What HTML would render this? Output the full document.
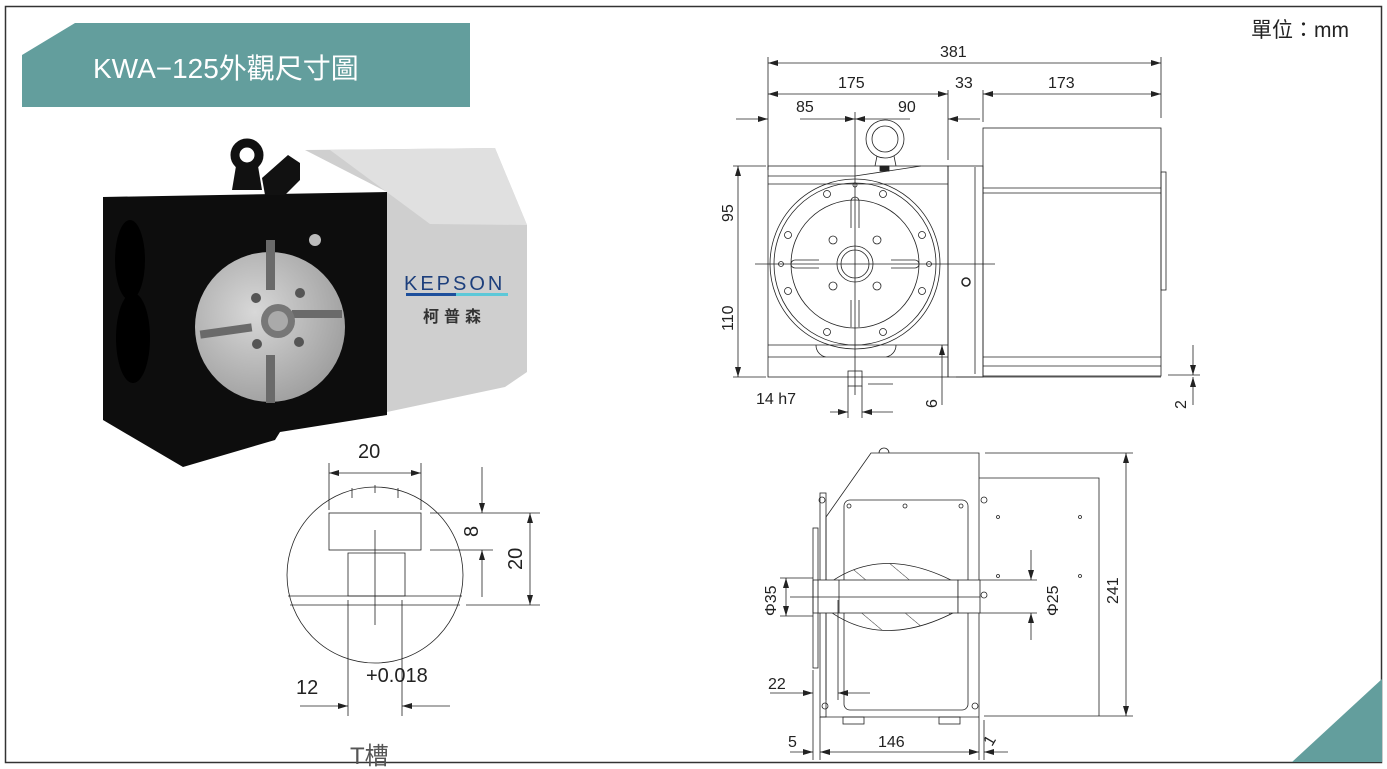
<!DOCTYPE html>
<html><head><meta charset="utf-8"><style>
html,body{margin:0;padding:0;background:#fff;}
svg{display:block;}
text{font-family:"Liberation Sans","Noto Sans CJK TC",sans-serif;fill:#222;}
</style></head><body>
<svg width="1387" height="769" viewBox="0 0 1387 769" xmlns="http://www.w3.org/2000/svg">
<defs>
<marker id="a" viewBox="0 0 10 6" refX="10" refY="3" markerWidth="10" markerHeight="6" orient="auto-start-reverse" markerUnits="userSpaceOnUse"><path d="M0,0 L10,3 L0,6z" fill="#222"/></marker>
<pattern id="h" width="28" height="28" patternUnits="userSpaceOnUse" patternTransform="rotate(-50)"><line x1="0" y1="0" x2="0" y2="28" stroke="#333" stroke-width="1"/></pattern>
<radialGradient id="sil" cx="0.4" cy="0.4" r="0.7"><stop offset="0" stop-color="#d8d8d8"/><stop offset="1" stop-color="#9a9a9a"/></radialGradient>
</defs>
<rect x="5.5" y="6.5" width="1376" height="756" fill="#fff" stroke="#333" stroke-width="1.5"/>
<!-- banner -->
<polygon points="22,55 75,23 470,23 470,107 22,107" fill="#639e9d"/>
<text x="93" y="78" font-size="28" style="fill:#fff">KWA−125外觀尺寸圖</text>
<text x="1251" y="37" font-size="21">單位：mm</text>
<polygon points="1292,762 1382,679 1382,762" fill="#639e9d"/>

<!-- photo -->
<polygon points="305,150 495,148 527,225 527,372 505,387 387,412 387,192" fill="#cfcfcf"/>
<polygon points="330,150 495,148 527,225 430,224" fill="#e0e0e0"/>
<polygon points="103,197 387,192 387,415 280,432 275,440 183,467 103,420" fill="#0d0d0d"/>
<ellipse cx="130" cy="260" rx="15" ry="40" fill="#000"/>
<ellipse cx="133" cy="338" rx="17" ry="45" fill="#000"/>
<circle cx="247" cy="155" r="12" fill="none" stroke="#111" stroke-width="9"/>
<path d="M236,166 L232,190 L262,190 L258,166z" fill="#111"/>
<path d="M262,178 L288,155 L300,163 L300,180 L285,195 L265,195z" fill="#111"/>
<circle cx="270" cy="327" r="75" fill="url(#sil)"/>
<rect x="266" y="240" width="9" height="50" fill="#6a6a6a"/>
<rect x="266" y="355" width="9" height="48" fill="#6a6a6a"/>
<rect x="200" y="327" width="52" height="8" fill="#6a6a6a" transform="rotate(-8 226 331)"/>
<rect x="292" y="310" width="50" height="8" fill="#6a6a6a"/>
<circle cx="278" cy="321" r="17" fill="#777"/><circle cx="278" cy="321" r="10" fill="#aaa"/>
<circle cx="256" cy="298" r="5" fill="#555"/><circle cx="300" cy="293" r="5" fill="#555"/>
<circle cx="257" cy="344" r="5" fill="#555"/><circle cx="299" cy="342" r="5" fill="#555"/>
<circle cx="315" cy="240" r="6" fill="#bbb"/>
<text x="404" y="290" font-size="20" letter-spacing="3" style="fill:#1d3f7c">KEPSON</text>
<rect x="406" y="293" width="50" height="3" fill="#1d4f9c"/><rect x="456" y="293" width="52" height="3" fill="#5cc8d8"/>
<text x="423" y="322" font-size="16" font-weight="bold" letter-spacing="5" style="fill:#333">柯普森</text>

<g stroke="#222" stroke-width="0.8" fill="none">
<!-- T-slot detail -->
<circle cx="375" cy="575" r="88"/>
<rect x="329" y="513" width="92" height="37" fill="#fff"/>
<path d="M348,553 L405,553 L405,596 L348,596z"/>
<path d="M288,596 L462,596 M290,605 L460,605"/>
<path d="M375,530 L375,625"/>
<path d="M352,488 v10 M375,485 v8 M398,488 v10"/>
<path d="M329,463 V510 M421,463 V510"/>
<line x1="329" y1="473" x2="421" y2="473" marker-start="url(#a)" marker-end="url(#a)"/>
<path d="M430,513 H540 M430,550 H493 M466,605 H540"/>
<line x1="482" y1="467" x2="482" y2="513" marker-end="url(#a)"/>
<line x1="482" y1="597" x2="482" y2="550" marker-end="url(#a)"/>
<line x1="530" y1="513" x2="530" y2="605" marker-start="url(#a)" marker-end="url(#a)"/>
<path d="M348,600 V716 M402,600 V716"/>
<line x1="300" y1="706" x2="348" y2="706" marker-end="url(#a)"/>
<line x1="450" y1="706" x2="402" y2="706" marker-end="url(#a)"/>

<!-- front view -->
<path d="M768,57 V170 M1161,57 V118 M948,90 V160 M983,90 V122 M855,112 V395"/>
<line x1="768" y1="63" x2="1161" y2="63" marker-start="url(#a)" marker-end="url(#a)"/>
<line x1="768" y1="94" x2="948" y2="94" marker-start="url(#a)" marker-end="url(#a)"/>
<line x1="983" y1="94" x2="1161" y2="94" marker-start="url(#a)" marker-end="url(#a)"/>
<line x1="736" y1="119" x2="768" y2="119" marker-end="url(#a)"/>
<line x1="800" y1="119" x2="855" y2="119" marker-end="url(#a)"/>
<line x1="980" y1="119" x2="948" y2="119" marker-end="url(#a)"/>
<line x1="910" y1="119" x2="855" y2="119" marker-end="url(#a)"/>
<rect x="768" y="166" width="180" height="211"/>
<path d="M768,176 H855 L921,166 M768,184 H948"/>
<circle cx="885" cy="139" r="19"/><circle cx="885" cy="139" r="13"/>
<path d="M877,156 L875,166 M894,156 L896,166"/><rect x="880" y="166" width="9" height="5" fill="#222"/>
<circle cx="855" cy="264" r="85"/><circle cx="855" cy="264" r="81"/><circle cx="855" cy="264" r="64"/>
<path d="M851,228 V201 a4,4 0 0,1 8,0 V228 M851,300 V327 M859,300 V327 M819,260 H795 a4,4 0 0,0 0,8 H819 M891,260 H915 a4,4 0 0,1 0,8 H891"/>
<circle cx="855" cy="264" r="18"/><circle cx="855" cy="264" r="14"/>
<circle cx="833" cy="240" r="4"/><circle cx="877" cy="240" r="4"/><circle cx="833" cy="286" r="4"/><circle cx="877" cy="286" r="4"/>
<circle cx="788" cy="235" r="3.5"/><circle cx="922" cy="235" r="3.5"/><circle cx="788" cy="291" r="3.5"/><circle cx="922" cy="291" r="3.5"/>
<circle cx="827" cy="194" r="3.5"/><circle cx="883" cy="194" r="3.5"/><circle cx="827" cy="332" r="3.5"/><circle cx="883" cy="332" r="3.5"/>
<circle cx="781" cy="264" r="2.5"/><circle cx="929" cy="264" r="2.5"/><circle cx="855" cy="185" r="2"/>
<path d="M755,264 H995"/>
<path d="M768,345 H948 M768,357 H948 M816,345 a12,12 0 0,0 10,12 M896,345 a12,12 0 0,1 -10,12"/>
<rect x="848" y="371" width="14" height="15"/>
<rect x="948" y="166" width="35" height="211"/><path d="M975,167 V374"/>
<rect x="983" y="128" width="178" height="248"/>
<path d="M983,188 H1161 M983,193 H1161 M983,357 H1161 M983,366 H1161"/>
<rect x="1161" y="172" width="5" height="118"/>
<circle cx="966" cy="282" r="4" stroke-width="1.5"/>
<path d="M733,166 H766 M733,377 H766 M956,377 H1161 M1168,375 H1200 M868,384 H893"/>
<line x1="738" y1="264" x2="738" y2="166" marker-end="url(#a)"/>
<line x1="738" y1="264" x2="738" y2="377" marker-end="url(#a)"/>
<path d="M848,386 V418 M862,386 V418"/>
<line x1="830" y1="412" x2="848" y2="412" marker-end="url(#a)"/>
<line x1="893" y1="412" x2="862" y2="412" marker-end="url(#a)"/>
<line x1="942" y1="345" x2="942" y2="405" marker-start="url(#a)"/>
<line x1="1193" y1="345" x2="1193" y2="375" marker-end="url(#a)"/>
<line x1="1193" y1="405" x2="1193" y2="377" marker-end="url(#a)"/>

<!-- side view -->
<path d="M826,700 V517 L871,453 H979 V717"/>
<path d="M889,453 a5,5 0 0,0 -10,0"/>
<rect x="820" y="493" width="6" height="224"/>
<path d="M820,717 H979"/>
<rect x="843" y="717" width="21" height="7"/><rect x="939" y="717" width="21" height="7"/>
<rect x="844" y="500" width="124" height="210" rx="6"/>
<path d="M985,453 H1133 M979,478 H1099 V716 M984,716 H1133"/>
<line x1="1126" y1="585" x2="1126" y2="453" marker-end="url(#a)"/>
<line x1="1126" y1="585" x2="1126" y2="716" marker-end="url(#a)"/>
<path d="M813,597 Q880,530 980,597 Q880,664 813,597z" fill="url(#h)"/>
<rect x="813" y="580" width="145" height="33" fill="#fff"/>
<rect x="958" y="580" width="22" height="33" fill="#fff"/>
<path d="M839,580 V613"/>
<rect x="813" y="528" width="5" height="140"/>
<circle cx="822" cy="500" r="3"/><circle cx="825" cy="706" r="3"/><circle cx="975" cy="706" r="3"/><circle cx="984" cy="500" r="3"/>
<circle cx="849" cy="506" r="2"/><circle cx="905" cy="506" r="2"/><circle cx="961" cy="506" r="2"/>
<circle cx="998" cy="517" r="1.5"/><circle cx="1080" cy="517" r="1.5"/><circle cx="998" cy="576" r="1.5"/><circle cx="1080" cy="576" r="1.5"/>
<circle cx="984" cy="595" r="3"/>
<path d="M780,578 H813 M780,616 H813 M790,597 H980 M980,580 H1037 M980,613 H1037"/>
<line x1="786" y1="597" x2="786" y2="578" marker-end="url(#a)"/>
<line x1="786" y1="597" x2="786" y2="616" marker-end="url(#a)"/>
<line x1="1031" y1="550" x2="1031" y2="580" marker-end="url(#a)"/>
<line x1="1031" y1="640" x2="1031" y2="613" marker-end="url(#a)"/>
<path d="M813,670 V760 M820,717 V760 M979,717 V760 M984,720 V760 M838,600 V700"/>
<line x1="770" y1="693" x2="813" y2="693" marker-end="url(#a)"/>
<line x1="870" y1="693" x2="838" y2="693" marker-end="url(#a)"/>
<line x1="790" y1="752" x2="813" y2="752" marker-end="url(#a)"/>
<line x1="820" y1="752" x2="979" y2="752" marker-start="url(#a)" marker-end="url(#a)"/>
<line x1="1008" y1="752" x2="984" y2="752" marker-end="url(#a)"/>
</g>

<g font-size="16">
<text x="940" y="57">381</text>
<text x="838" y="88">175</text><text x="955" y="88">33</text><text x="1048" y="88">173</text>
<text x="796" y="112">85</text><text x="898" y="112">90</text>
<text transform="translate(733,222) rotate(-90)">95</text>
<text transform="translate(733,331) rotate(-90)">110</text>
<text x="756" y="404">14 h7</text>
<text transform="translate(937,408) rotate(-90)">6</text>
<text transform="translate(1186,409) rotate(-90)">2</text>
<text transform="translate(776,616) rotate(-90)">Φ35</text>
<text transform="translate(1058,616) rotate(-90)">Φ25</text>
<text transform="translate(1118,604) rotate(-90)">241</text>
<text x="768" y="689">22</text>
<text x="788" y="747">5</text><text x="878" y="747">146</text>
<text transform="translate(992,747) rotate(-60)">1</text>
</g>
<g font-size="20">
<text x="358" y="458">20</text>
<text transform="translate(478,537) rotate(-90)">8</text>
<text transform="translate(522,570) rotate(-90)">20</text>
<text x="296" y="694">12</text>
<text x="366" y="682">+0.018</text>
<text x="350" y="764" font-size="24" style="fill:#555">T槽</text>
</g>
</svg>
</body></html>
